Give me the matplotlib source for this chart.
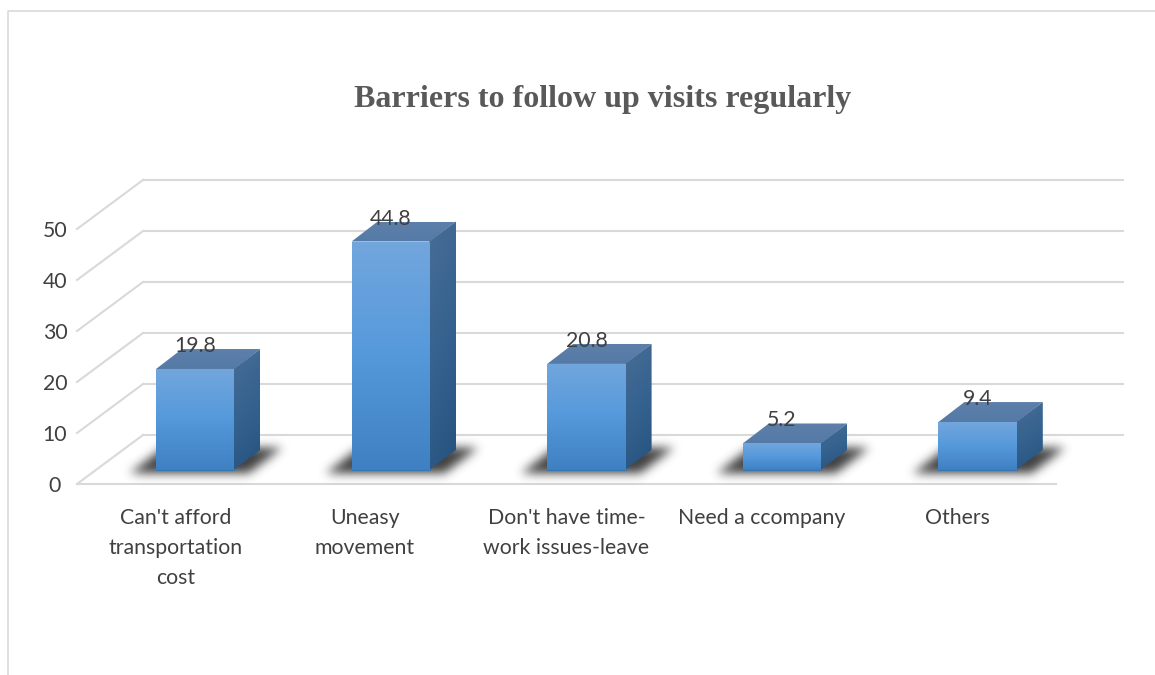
import numpy as np
import matplotlib
matplotlib.use('Agg')
import matplotlib.pyplot as plt
from matplotlib.colors import LinearSegmentedColormap
from matplotlib.patches import Polygon

categories = ["Can't afford\ntransportation\ncost", "Uneasy\nmovement",
              "Don't have time-\nwork issues-leave", "Need a ccompany", "Others"]
values = [19.8, 44.8, 20.8, 5.2, 9.4]
y_ticks = [0, 10, 20, 30, 40, 50]
title = 'Barriers to follow up visits regularly'

W, H = 1155, 675
X0, STEP = 195.2, 195.6   # pixel centre of the first bar, bar spacing
Y0, UNIT = 470.0, 5.1     # pixel row of the bar base, pixels per value unit

GRID = '#D9D9D9'
TEXT = '#404040'
LABEL_FONT = ['Lato', 'DejaVu Sans']
LABEL_SIZE = 15.3

front_cmap = LinearSegmentedColormap.from_list('front', ['#72A6DD', '#5599DB', '#3F80C2'])
side_cmap = LinearSegmentedColormap.from_list('side', ['#486D95', '#35628F', '#25527D'])
top_cmap = LinearSegmentedColormap.from_list('top', ['#5D80AA', '#557AA6'])

# oblique projection: everything is in category/value units, depth is a fixed shift
half_w = 39.2 / STEP
dx, dy = 26 / STEP, 20 / UNIT
floor_front = -14 / UNIT
floor_back = 35 / UNIT
grid_left = (143 - X0) / STEP
grid_right = (1123 - X0) / STEP
front_left = (77 - X0) / STEP
front_right = (1056 - X0) / STEP

fig = plt.figure(figsize=(W / 100, H / 100), dpi=100, facecolor='white')
ax = fig.add_axes([0, 0, 1, 1])
ax.axis('off')
xlim = (-X0 / STEP, (W - X0) / STEP)
ylim = ((Y0 - H) / UNIT, Y0 / UNIT)


def gradient(poly, data, cmap, z):
    xs, ys = zip(*poly)
    im = ax.imshow(data, cmap=cmap, extent=(min(xs), max(xs), min(ys), max(ys)),
                   origin='upper', aspect='auto', vmin=0, vmax=1,
                   interpolation='bilinear', zorder=z)
    im.set_clip_path(Polygon(poly, transform=ax.transData))


def blur(a, sigma):
    r = int(3 * sigma)
    k = np.exp(-0.5 * (np.arange(-r, r + 1) / sigma) ** 2)
    k /= k.sum()
    a = np.apply_along_axis(lambda v: np.convolve(v, k, mode='same'), 0, a)
    return np.apply_along_axis(lambda v: np.convolve(v, k, mode='same'), 1, a)


def shadow(i):
    # soft floor shadow, sheared like the floor, computed on a pixel grid
    c = X0 + i * STEP
    px = np.arange(c - 120, c + 140)
    py = np.arange(Y0 - 50, Y0 + 25)
    xx, yy = np.meshgrid(px, py)
    shift = (Y0 + 4 - yy) * 1.3
    inside = (yy > Y0 - 23) & (yy < Y0 + 4) & (xx > c - 66 + shift) & (xx < c + 53 + shift)
    alpha = blur(inside.astype(float), 5.0) * 0.85
    rgba = np.zeros(alpha.shape + (4,))
    rgba[..., :3] = 0.12
    rgba[..., 3] = alpha
    ax.imshow(rgba, extent=((px[0] - X0) / STEP, (px[-1] - X0) / STEP,
                            (Y0 - py[-1]) / UNIT, (Y0 - py[0]) / UNIT),
              origin='upper', aspect='auto', interpolation='bilinear', zorder=2)


# walls and floor
for v in y_ticks:
    ax.plot([grid_left, grid_right], [floor_back + v] * 2, color=GRID, lw=1.5, zorder=1)
    ax.plot([front_left, grid_left], [floor_front + v, floor_back + v], color=GRID, lw=1.5, zorder=1)
    ax.text((55 - X0) / STEP, floor_front + v, str(v), ha='center', va='center_baseline',
            fontsize=LABEL_SIZE, color=TEXT, family=LABEL_FONT)
ax.plot([front_left, front_right], [floor_front] * 2, color=GRID, lw=1.5, zorder=1)

# boxes
label_nudge = [0, -6, 0, 0, 0]
ramp = np.linspace(0, 1, 128)[:, None]
diag = (ramp + np.linspace(0, 0.25, 32)[None, :]) / 1.25
seam = 1 / STEP   # side face runs under the front edge so no gap shows
for i, v in enumerate(values):
    shadow(i)
    l, r = i - half_w, i + half_w
    gradient([(r - seam, 0), (r + dx, dy), (r + dx, v + dy), (r - seam, v)], diag, side_cmap, 3)
    gradient([(l, v), (r, v), (r + dx, v + dy), (l + dx, v + dy)], ramp, top_cmap, 3)
    gradient([(l, 0), (r, 0), (r, v), (l, v)], ramp, front_cmap, 3)
    ax.plot([l, r], [0, 0], color='#3A76B0', lw=0.8, zorder=4)
    ax.text(i, v + 25 / UNIT, f'{v:g}', ha='center', va='center_baseline', fontsize=LABEL_SIZE,
            color=TEXT, family=LABEL_FONT, zorder=5)
    ax.text(i + (label_nudge[i] - 20) / STEP, (Y0 - 508) / UNIT, categories[i], ha='center',
            va='top', fontsize=LABEL_SIZE, color=TEXT, family=LABEL_FONT, linespacing=1.64)

ax.text((603 - X0) / STEP, (Y0 - 96) / UNIT, title, ha='center', va='center_baseline', fontsize=23,
        fontweight='bold', color='#595959', family=['Liberation Serif', 'DejaVu Serif'])

# outer frame only shows on the top and left
ax.plot([xlim[1], (8 - X0) / STEP, (8 - X0) / STEP],
        [(Y0 - 11) / UNIT, (Y0 - 11) / UNIT, ylim[0]], color=GRID, lw=1.2, zorder=1)

ax.set_xlim(*xlim)
ax.set_ylim(*ylim)
fig.savefig('out.png', dpi=100)
